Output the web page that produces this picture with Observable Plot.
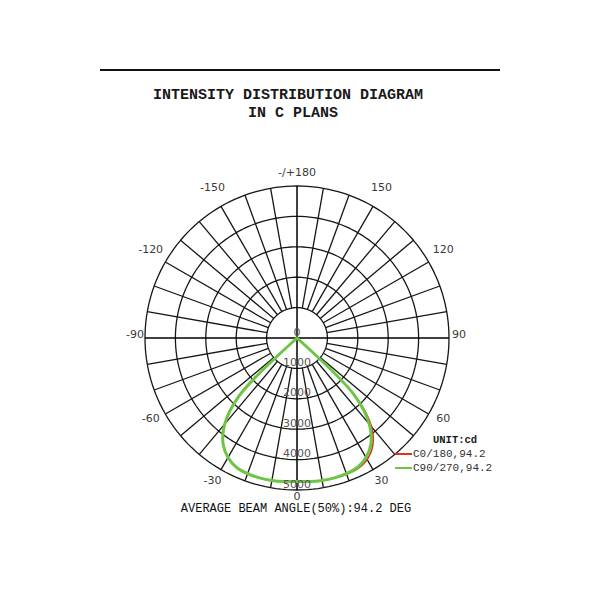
<!DOCTYPE html>
<html><head><meta charset="utf-8">
<script src="https://cdn.jsdelivr.net/npm/d3@7"></script>
<script src="https://cdn.jsdelivr.net/npm/@observablehq/plot@0.6"></script>
<style>
body{margin:0;background:#fff;}
#wrap{position:relative;width:600px;height:600px;overflow:hidden;background:#fff;}
.abs{position:absolute;white-space:pre;}
.mono{font-family:"Liberation Mono","DejaVu Sans Mono",monospace;color:#1a1a1a;}
</style></head><body>
<div id="wrap">
  <div id="chart" class="abs" style="left:0;top:0;"></div>
  <div class="abs" style="left:100px;top:69px;width:400px;height:2px;background:#111;"></div>
  <div id="t1" class="abs mono" style="left:88px;top:87px;width:400px;text-align:center;font-size:15px;font-weight:bold;line-height:18px;"></div>
  <div id="t2" class="abs mono" style="left:93px;top:105px;width:400px;text-align:center;font-size:15px;font-weight:bold;line-height:18px;"></div>
  <div id="unit" class="abs mono" style="left:433px;top:433px;font-size:10.5px;font-weight:bold;line-height:14px;"></div>
  <div class="abs" style="left:395px;top:453px;width:17px;height:2px;background:#e0301e;"></div>
  <div id="l1" class="abs mono" style="left:413px;top:447px;font-size:11px;line-height:14px;color:#333;"></div>
  <div class="abs" style="left:395px;top:467px;width:17px;height:1.5px;background:#6cc644;"></div>
  <div id="l2" class="abs mono" style="left:413px;top:461px;font-size:11px;line-height:14px;color:#333;"></div>
  <div id="foot" class="abs mono" style="left:96px;top:502px;width:400px;text-align:center;font-size:12px;line-height:14px;color:#111;"></div>
</div>
<script>
// ---- texts ----
const titleLines = ["INTENSITY DISTRIBUTION DIAGRAM", "IN C PLANS"];
const unitLabel = "UNIT:cd";
const seriesNames = ["C0/180,94.2", "C90/270,94.2"];
const footer = "AVERAGE BEAM ANGLE(50%):94.2 DEG";

// ---- grid ----
const ringValues = [1000, 2000, 3000, 4000, 5000];
const ringLabels = [0, 1000, 2000, 3000, 4000, 5000];
const spokeStep = 10;
const angleTicks = [0, 30, 60, 90, 120, 150, 180, -30, -60, -90, -120, -150];
const angleTickLabels = ["0", "30", "60", "90", "120", "150", "-/+180", "-30", "-60", "-90", "-120", "-150"];

// ---- data (gamma angle in degrees, intensity in cd) ----
const gammaDeg = [0, 5, 10, 15, 20, 25, 30, 35, 40, 45, 50, 55, 60, 65, 70, 75, 80, 85, 90];
const c0   = [4720, 4740, 4760, 4770, 4770, 4740, 4620, 4340, 3820, 2750, 0, 0, 0, 0, 0, 0, 0, 0, 0];
const c180 = [4720, 4740, 4760, 4765, 4750, 4700, 4540, 4240, 3700, 2700, 0, 0, 0, 0, 0, 0, 0, 0, 0];
const c90  = [4720, 4740, 4760, 4765, 4750, 4700, 4540, 4240, 3700, 2700, 0, 0, 0, 0, 0, 0, 0, 0, 0];
const c270 = [4720, 4740, 4760, 4765, 4750, 4700, 4540, 4240, 3700, 2700, 0, 0, 0, 0, 0, 0, 0, 0, 0];

document.getElementById("t1").textContent = titleLines[0];
document.getElementById("t2").textContent = titleLines[1];
document.getElementById("unit").textContent = unitLabel;
document.getElementById("l1").textContent = seriesNames[0];
document.getElementById("l2").textContent = seriesNames[1];
document.getElementById("foot").textContent = footer;

const rad = d => d * Math.PI / 180;
// polar -> cartesian: angle 0 points down, positive angles to the right
const px = (a, r) => r * Math.sin(rad(a));
const py = (a, r) => r * Math.cos(rad(a));

const maxR = 5000;
const k = maxR / 152; // cd per pixel
const cx = 296.5, cy = 337.5;

// rings
const ringPts = ringValues.flatMap(v => d3.range(0, 361, 2).map(a => ({ring: v, x: px(a, v), y: py(a, v)})));

// spokes
const spokes = d3.range(0, 360, spokeStep).filter(a => a % 90 !== 0).map(a => ({
  x1: px(a, ringValues[0]), y1: py(a, ringValues[0]), x2: px(a, maxR), y2: py(a, maxR)
}));
const axes = [0, 90].map(a => ({x1: px(a, -maxR), y1: py(a, -maxR), x2: px(a, maxR), y2: py(a, maxR)}));

// angle labels
const angleLab = angleTicks.map((a, i) => {
  const r = (a % 90 === 0 ? 162 : 169) * k;
  return {x: px(a, r), y: py(a, r), t: angleTickLabels[i]};
});

// ring labels
const ringLab = ringLabels.map(v => ({x: 0, y: v, t: String(v)}));

// curves (left half from the C180 / C270 plane, right half from C0 / C90)
function curve(right, left) {
  const L = gammaDeg.map((g, i) => ({x: px(-g, left[i]), y: py(-g, left[i])})).reverse();
  const R = gammaDeg.map((g, i) => ({x: px(g, right[i]), y: py(g, right[i])}));
  return L.concat(R);
}
const redCurve = curve(c0, c180);
const greenCurve = curve(c90, c270);

const gridColor = "#161616";
const chart = Plot.plot({
  width: 600, height: 600,
  marginTop: 0, marginRight: 0, marginBottom: 0, marginLeft: 0,
  x: {domain: [-cx * k, (600 - cx) * k], range: [0, 600], axis: null},
  y: {domain: [-cy * k, (600 - cy) * k], range: [0, 600], axis: null},
  style: {background: "transparent", overflow: "visible"},
  marks: [
    Plot.line(ringPts, {x: "x", y: "y", z: "ring", stroke: gridColor, strokeWidth: 1.3}),
    Plot.link(spokes, {x1: "x1", y1: "y1", x2: "x2", y2: "y2", stroke: gridColor, strokeWidth: 1.3}),
    Plot.link(axes, {x1: "x1", y1: "y1", x2: "x2", y2: "y2", stroke: "#000", strokeWidth: 1.5}),
    Plot.line(redCurve, {x: "x", y: "y", stroke: "#e0301e", strokeWidth: 1.6, curve: "catmull-rom"}),
    Plot.line(greenCurve, {x: "x", y: "y", stroke: "#6cc644", strokeWidth: 3, strokeLinejoin: "round", curve: "catmull-rom"}),
    Plot.text(ringLab, {x: "x", y: "y", text: "t", dy: -6, fill: "#555", fontSize: 11, fontFamily: "DejaVu Sans"}),
    Plot.text(angleLab, {x: "x", y: "y", text: "t", dy: -4, fill: "#3a3a3a", fontSize: 11, fontFamily: "DejaVu Sans"})
  ]
});
document.getElementById("chart").appendChild(chart);
</script>
</body></html>
